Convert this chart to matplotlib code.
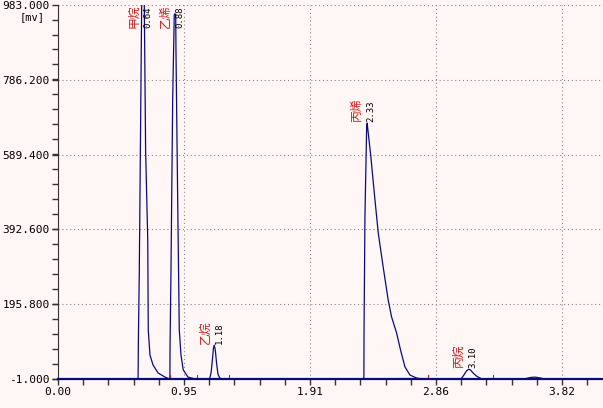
from matplotlib import pyplot as plt
from matplotlib.ticker import MultipleLocator, FixedLocator
import numpy as np

# chromatogram trace (time in min, signal in mV)
trace_t = [0.000, 0.600, 0.607, 0.609, 0.616, 0.634, 0.644, 0.654, 0.664, 0.680, 0.684,
           0.697, 0.720, 0.758, 0.811, 0.846, 0.848, 0.849, 0.856, 0.869, 0.881, 0.886,
           0.892, 0.894, 0.907, 0.919, 0.932, 0.949, 0.985, 1.040, 1.148, 1.160, 1.170,
           1.178, 1.184, 1.192, 1.202, 1.212, 1.225, 1.240, 2.315, 2.318, 2.319, 2.326,
           2.339, 2.343, 2.371, 2.402, 2.427, 2.464, 2.502, 2.528, 2.566, 2.596, 2.629,
           2.667, 2.717, 2.760, 3.040, 3.058, 3.075, 3.095, 3.110, 3.125, 3.145, 3.170,
           3.195, 3.215, 3.530, 3.580, 3.614, 3.650, 3.690, 4.130]
trace_mv = [-1, -1, 2, 95, 280, 980, 1010, 980, 600, 365, 128,
            62, 36, 15, 4, -1, 5, 83, 278, 733, 957, 960,
            957, 864, 470, 128, 62, 23, 4, -1, -1, 15, 50,
            80, 88, 75, 40, 12, 2, -1, -1, 5, 120, 425,
            662, 672, 583, 470, 383, 294, 207, 162, 120, 75, 31,
            9.5, 1.6, -1, -1, 1, 9, 20, 24.5, 23, 15, 7,
            2, -1, -1, 3, 4, 2, -1, -1]

# identified peaks
peak_names = ['甲烷', '乙烯', '乙烷', '丙烯', '丙烷']
peak_times = [0.64, 0.88, 1.18, 2.33, 3.10]
peak_heights = [1010, 960, 88, 672, 24.5]

# integration marks on the baseline
mark_t = [0.848, 1.053, 1.295, 2.803, 3.295]
base_seg_t = [2.568, 2.803]

x_major = [0.00, 0.955, 1.91, 2.865, 3.82]
x_labels = ['0.00', '0.95', '1.91', '2.86', '3.82']
y_major = [-1.0, 195.8, 392.6, 589.4, 786.2, 983.0]

bg = '#fff7f5'
navy = '#0a0a80'
red = '#c81e1e'

fig = plt.figure(figsize=(6.03, 4.08), dpi=100, facecolor=bg)
ax = fig.add_axes([58/603, 29/408, 545/603, 374/408])
ax.set_facecolor(bg)

ax.plot(trace_t, trace_mv, color=navy, linewidth=0.9)

# red integration ticks / baseline segment
for t in mark_t:
    ax.plot([t, t], [-1, 9], color=red, linewidth=0.8)
ax.plot(base_seg_t, [1, 1], color=red, linewidth=0.8)

# peak labels: name in red, retention time in black, both vertical
for name, t, h in zip(peak_names, peak_times, peak_heights):
    y = min(h, 918)
    ax.annotate(name, (t, y), xytext=(-6, 1), textcoords='offset points',
                rotation=90, ha='center', va='bottom', color=red, fontsize=8.5,
                family=['Noto Sans CJK SC', 'DejaVu Sans'])
    ax.annotate('%.2f' % t, (t, y), xytext=(4, 1), textcoords='offset points',
                rotation=90, ha='center', va='bottom', color='black', fontsize=6.5,
                family='DejaVu Sans Mono')

ax.set_xlim(0, 4.13)
ax.set_ylim(-1, 983)

ax.xaxis.set_major_locator(FixedLocator(x_major))
ax.set_xticks(x_major, x_labels)
ax.xaxis.set_minor_locator(MultipleLocator(0.191))
ax.set_yticks(y_major, ['%.3f' % v for v in y_major])
ax.yaxis.set_minor_locator(MultipleLocator(39.36))

ax.tick_params(axis='both', which='both', direction='out', length=4.5, width=1,
               color='#333333', labelsize=8, pad=1.5)
for lab in ax.get_xticklabels() + ax.get_yticklabels():
    lab.set_family('DejaVu Sans Mono')

ax.grid(True, which='major', color='#888888', linestyle=(0, (1, 2.5)), linewidth=0.8)

ax.spines['right'].set_color('none')
ax.spines['top'].set_color('none')
ax.spines['left'].set_color('#333333')
ax.spines['bottom'].set_color(navy)
ax.spines['bottom'].set_linewidth(1.6)

fig.text(32/603, 1 - 17/408, '[mv]', ha='center', va='center', fontsize=7.5,
         family='DejaVu Sans Mono')

plt.savefig('out.png', dpi=100, facecolor=bg)
